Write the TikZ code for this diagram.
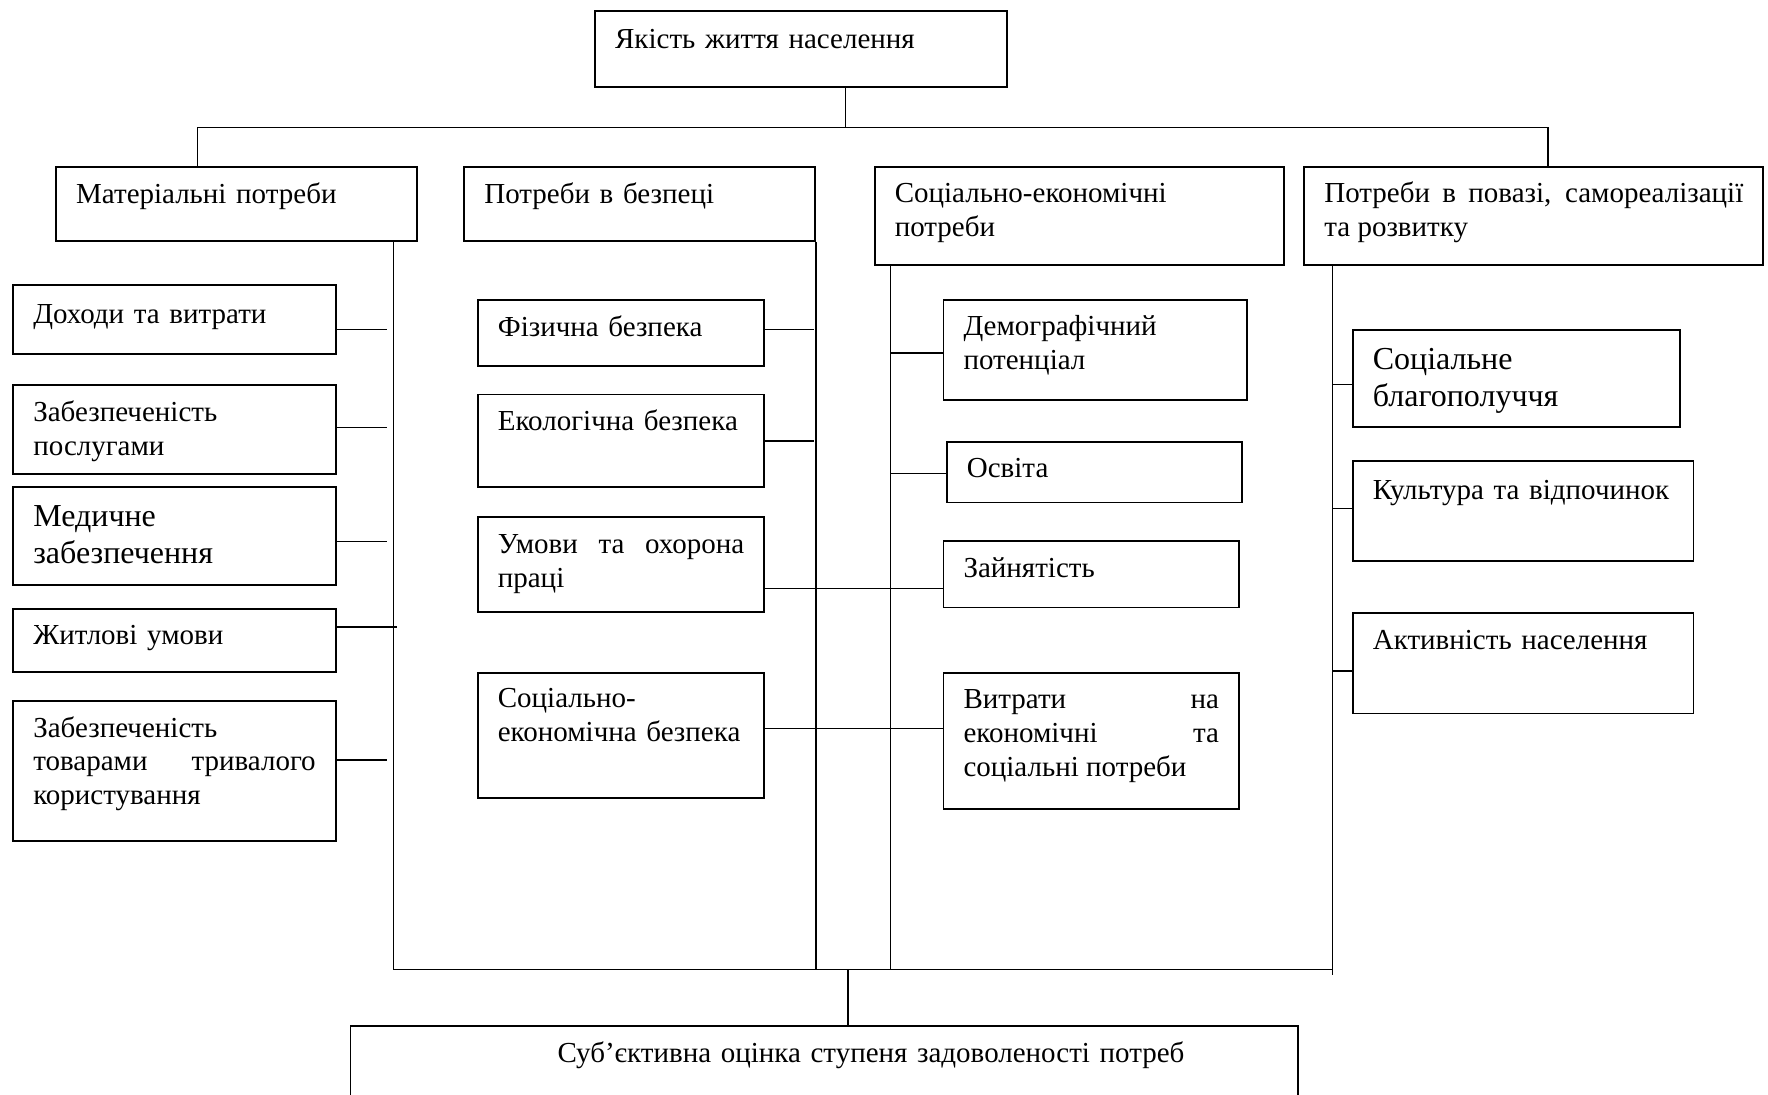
\documentclass[tikz,border=0pt]{standalone}
\usepackage{fontspec}
\setmainfont{Liberation Serif}
\hyphenpenalty=10000

\begin{document}
\begin{tikzpicture}[x=0.5638pt, y=-0.5638pt,
    item/.style={draw, line width=0.9pt, anchor=north west, inner xsep=10pt,
      inner ysep=0pt, align=left, font=\fontsize{14.5}{16.9}\selectfont},
    bigitem/.style={item, font=\fontsize{16}{18.3}\selectfont},
    link/.style={line width=0.7pt}]
  \useasboundingbox (0,0) rectangle (1568,971);
  % top and bottom
  \node[item, text width=185.8pt, text height=18.5pt, text depth=19.3pt] (top) at (527,9) {Якість життя населення};
  \node[item, align=center, text width=453.6pt, text height=18.5pt, text depth=26.6pt] (low) at (310,909) {\hspace*{47pt}Суб’єктивна оцінка ступеня задоволеності потреб};
  % needs
  \node[item, text width=160.4pt, text height=18.5pt, text depth=18.7pt] (mat) at (49,147) {Матеріальні потреби};
  \node[item, text width=155.3pt, text height=18.5pt, text depth=18.7pt] (safe) at (411,147) {Потреби в безпеці};
  \node[item, text width=184.7pt, text height=18pt, text depth=31.1pt] (socec) at (775,147) {Соціально-економічні\\ потреби};
  \node[item, align=justify, text width=209.5pt, text height=18pt, text depth=31.1pt] (resp) at (1156,147) {Потреби в повазі, самореалізації\linebreak та розвитку};
  % material
  \node[item, text width=141.2pt, text height=19.3pt, text depth=15.1pt] (inc) at (11,252) {Доходи та витрати};
  \node[item, text width=141.2pt, text height=18pt, text depth=26.5pt] (serv) at (11,341) {Забезпеченість\\ послугами};
  \node[bigitem, text width=141.2pt, text height=20pt, text depth=29.1pt] (med) at (11,431) {Медичне\\ забезпечення};
  \node[item, text width=141.2pt, text height=18pt, text depth=13.6pt] (house) at (11,539) {Житлові умови};
  \node[item, align=justify, text width=141.2pt, text height=18pt, text depth=51.9pt] (goods) at (11,621) {Забезпеченість\\ товарами тривалого\linebreak користування};
  % safety
  \node[item, text width=123.2pt, text height=18.6pt, text depth=14.7pt] (phys) at (423,265) {Фізична безпека};
  \node[item, text width=123.2pt, text height=18pt, text depth=28.2pt] (eco) at (423,349) {Екологічна безпека};
  \node[item, align=justify, text width=123.2pt, text height=18pt, text depth=29.4pt] (work) at (423,458) {Умови та охорона\linebreak праці};
  \node[item, text width=123.2pt, text height=17.5pt, text depth=45.1pt] (secur) at (423,596) {Соціально-\\ економічна безпека};
  % socio-economic
  \node[item, text width=131.7pt, text height=18pt, text depth=32.2pt] (demo) at (836,265) {Демографічний\\ потенціал};
  \node[item, text width=127.7pt, text height=18pt, text depth=12.4pt] (edu) at (839,391) {Освіта};
  \node[item, text width=127.7pt, text height=18pt, text depth=15.3pt] (empl) at (836,479) {Зайнятість};
  \node[item, align=justify, text width=127.7pt, text height=18pt, text depth=50.2pt] (spend) at (836,596) {Витрати на\linebreak економічні та\linebreak соціальні потреби};
  % respect
  \node[bigitem, text width=143.5pt, text height=19.7pt, text depth=28.8pt] (welf) at (1199,292) {Соціальне\\ благополуччя};
  \node[item, text width=150.3pt, text height=19.3pt, text depth=30.9pt] (cult) at (1199,408) {Культура та відпочинок};
  \node[item, text width=150.3pt, text height=18pt, text depth=32.2pt] (act) at (1199,543) {Активність населення};

  \coordinate (busT) at (750,113);
  \coordinate (busL) at (175,113);
  \coordinate (busR) at (1373,113);
  \coordinate (jA) at (349,860);
  \coordinate (jC) at (790,860);
  \coordinate (jD) at (1182,865);
  \coordinate (jM) at (752,860);
  \coordinate (a1) at (343,292);
  \coordinate (a2) at (343,379);
  \coordinate (a3) at (343,480);
  \coordinate (a4) at (352,556);
  \coordinate (a5) at (343,674);
  \coordinate (b1) at (722,292);
  \coordinate (b2) at (722,391);
  \coordinate (b3) at (0,522);
  \coordinate (b4) at (0,646);
  \coordinate (c1) at (790,313);
  \coordinate (c2) at (790,420);
  \coordinate (d1) at (1182,341);
  \coordinate (d2) at (1182,451);
  \coordinate (d3) at (1182,595);
  \begin{scope}[link]
    \draw (top.south -| busT) -- (busT);
    \draw (mat.north -| busL) -- (busL) -- (busR) -- (resp.north -| busR);
    \draw (mat.south -| jA) -- (jA) -- (jA -| jD);
    \draw (safe.south east) -- (safe.south east |- jA);
    \draw (socec.south -| jC) -- (jC);
    \draw (resp.south -| jD) -- (jD);
    \draw (jM) -- (jM |- low.north);
    \draw (a1 -| inc.east) -- (a1);
    \draw (a2 -| serv.east) -- (a2);
    \draw (a3 -| med.east) -- (a3);
    \draw (a4 -| house.east) -- (a4);
    \draw (a5 -| goods.east) -- (a5);
    \draw (b1 -| phys.east) -- (b1);
    \draw (b2 -| eco.east) -- (b2);
    \draw (b3 -| work.east) -- (b3 -| empl.west);
    \draw (b4 -| secur.east) -- (b4 -| spend.west);
    \draw (c1) -- (c1 -| demo.west);
    \draw (c2) -- (c2 -| edu.west);
    \draw (d1) -- (d1 -| welf.west);
    \draw (d2) -- (d2 -| cult.west);
    \draw (d3) -- (d3 -| act.west);
  \end{scope}
\end{tikzpicture}
\end{document}
